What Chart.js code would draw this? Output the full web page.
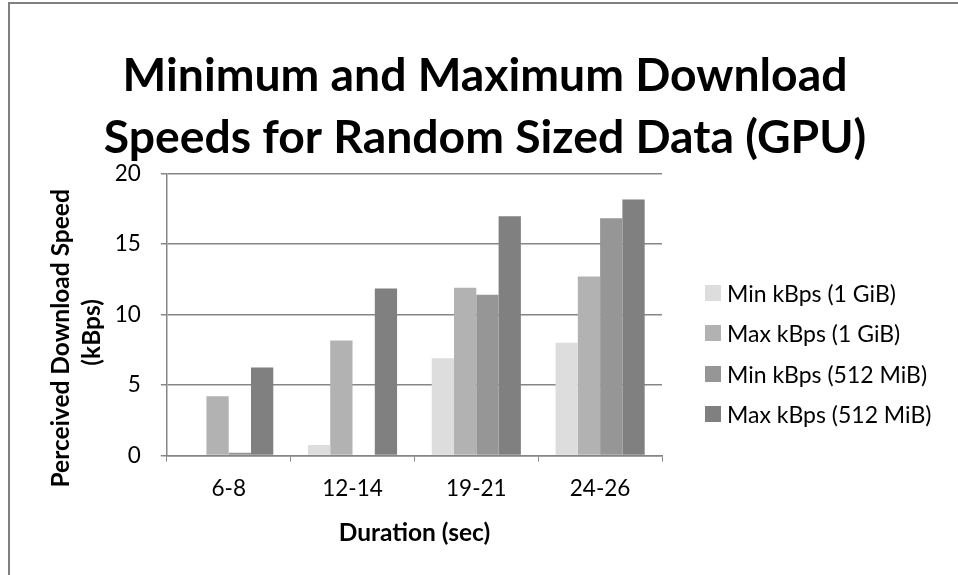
<!DOCTYPE html>
<html>
<head>
<meta charset="utf-8">
<script src="https://cdn.jsdelivr.net/npm/chart.js@4.4.0/dist/chart.umd.min.js"></script>
<style>
    html, body { margin: 0; padding: 0; background: #fff; overflow: hidden; }
    #frame {
        position: absolute; left: 8px; top: 2px;
        width: 950px; height: 573px;
        border-left: 2px solid #808080; border-top: 2px solid #808080;
    }
    #chart { display: block; }
    #legend { position: absolute; left: 695px; top: 0; font-family: Lato, "Open Sans", sans-serif; font-size: 23px; color: #000; }
    .legend-item { position: absolute; left: 0; height: 26px; line-height: 26px; white-space: nowrap; }
    .legend-box { position: absolute; left: 0; top: 5px; width: 16px; height: 16px; }
    .legend-text { position: absolute; left: 22px; top: 0; }
</style>
</head>
<body>
<div id="frame">
    <canvas id="chart" width="948" height="571"></canvas>
    <div id="legend"></div>
</div>
<script>
// valores
const duracoes = ['6-8', '12-14', '19-21', '24-26'];
const minGiB = [0, 0.76, 6.9, 8.0];
const maxGiB = [4.2, 8.15, 11.9, 12.7];
const minMiB = [0.2, 0.06, 11.4, 16.82];
const maxMiB = [6.25, 11.85, 16.97, 18.15];
const seriesLabels = ['Min kBps (1 GiB)', 'Max kBps (1 GiB)', 'Min kBps (512 MiB)', 'Max kBps (512 MiB)'];
const seriesColors = ['#dddddd', '#b2b2b2', '#969696', '#808080'];

const fontFamily = 'Lato, "Open Sans", sans-serif';
const gridColor = '#868686';

document.addEventListener('DOMContentLoaded', function() {
    const ctx = document.getElementById('chart').getContext('2d');
    const legendEl = document.getElementById('legend');
    const valores = [minGiB, maxGiB, minMiB, maxMiB];

    const chart = new Chart(ctx, {
        type: 'bar',
        data: {
            labels: duracoes,
            datasets: seriesLabels.map((label, i) => ({
                label: label,
                data: valores[i],
                backgroundColor: seriesColors[i],
                borderWidth: 0,
                categoryPercentage: 0.72,
                barPercentage: 1.0
            }))
        },
        options: {
            responsive: false,
            animation: false,
            layout: { padding: { left: 35, right: 33, top: 0, bottom: 27 } },
            plugins: {
                tooltip: { enabled: false },
                legend: { display: false },
                title: {
                    display: true,
                    text: ['Minimum and Maximum Download', 'Speeds for Random Sized Data (GPU)'],
                    color: '#000',
                    font: { family: fontFamily, size: 46.3, weight: 'bold', lineHeight: 1.333 },
                    padding: { top: 41, bottom: 5 }
                }
            },
            scales: {
                x: {
                    grid: { display: true, drawOnChartArea: false, color: gridColor, tickLength: 6, offset: true },
                    border: { display: true, color: gridColor, width: 1.5 },
                    ticks: { color: '#000', font: { family: fontFamily, size: 22.5 }, padding: 14 },
                    title: {
                        display: true, text: 'Duration (sec)', color: '#000',
                        font: { family: fontFamily, size: 24.5, weight: 'bold' },
                        padding: { top: 2, bottom: 0 }
                    }
                },
                y: {
                    min: 0, max: 20,
                    ticks: { stepSize: 5, color: '#000', font: { family: fontFamily, size: 22.5 }, padding: 20 },
                    grid: { color: gridColor, lineWidth: 1.5, tickLength: 6 },
                    border: { display: true, color: gridColor, width: 1.5 },
                    title: {
                        display: true,
                        // espaços no fim descem o título como no original
                        text: ['Perceived Download Speed        ', '(kBps)      '],
                        color: '#000',
                        font: { family: fontFamily, size: 24.5, weight: 'bold', lineHeight: 1.28 },
                        padding: { top: 0, bottom: -13 } // compensa o padding dobrado dos ticks
                    }
                },
                // espaço reservado para a legenda à direita
                legendSpace: {
                    position: 'right',
                    display: true,
                    grid: { display: false },
                    border: { display: false },
                    ticks: { display: false },
                    afterFit: scale => { scale.width = 263; }
                }
            }
        }
    });

    // legenda em HTML
    const rowStep = 40.6;
    const firstRow = 288.5; // centro da primeira linha (coord. do canvas)
    chart.data.datasets.forEach((ds, i) => {
        const item = document.createElement('div');
        item.className = 'legend-item';
        item.style.top = (firstRow + i * rowStep - 13) + 'px';
        const box = document.createElement('span');
        box.className = 'legend-box';
        box.style.background = ds.backgroundColor;
        const text = document.createElement('span');
        text.className = 'legend-text';
        text.textContent = ds.label;
        item.appendChild(box);
        item.appendChild(text);
        legendEl.appendChild(item);
    });
});
</script>
</body>
</html>
